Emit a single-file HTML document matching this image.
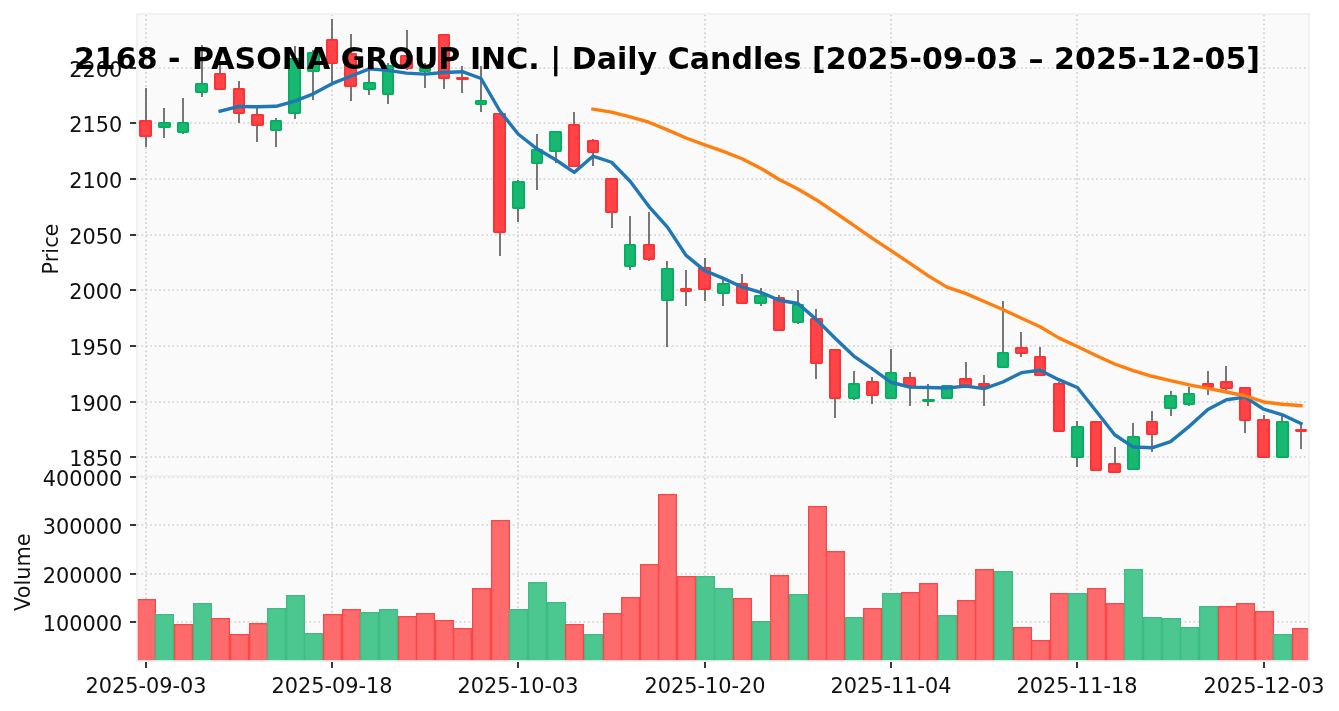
<!DOCTYPE html>
<html lang="en"><head><meta charset="utf-8"><title>2168 - PASONA GROUP INC. | Daily Candles</title>
<style>html,body{margin:0;padding:0;background:#fff}body{width:1339px;height:711px;overflow:hidden}svg{display:block}text{font-family:"DejaVu Sans","Liberation Sans",sans-serif;fill:#101010}</style></head><body>
<svg width="1339" height="711" viewBox="0 0 1339 711">
<rect width="1339" height="711" fill="#fff"/>
<defs><clipPath id="cp"><rect x="137" y="14" width="1172" height="462"/></clipPath><clipPath id="cv"><rect x="137" y="476" width="1172" height="185"/></clipPath></defs>
<rect x="137" y="14" width="1172" height="647" fill="#fafafa"/>
<g clip-path="url(#cp)" stroke="#d0d0d0" stroke-width="1.67" stroke-dasharray="1.67 2.75" fill="none"><path d="M146 476V14"/><path d="M332 476V14"/><path d="M518 476V14"/><path d="M705 476V14"/><path d="M891 476V14"/><path d="M1077 476V14"/><path d="M1264 476V14"/><path d="M137 68H1309"/><path d="M137 123H1309"/><path d="M137 179H1309"/><path d="M137 235H1309"/><path d="M137 290H1309"/><path d="M137 346H1309"/><path d="M137 402H1309"/><path d="M137 457H1309"/></g>
<g clip-path="url(#cv)" stroke="#d0d0d0" stroke-width="1.67" stroke-dasharray="1.67 2.75" fill="none"><path d="M146 661V476"/><path d="M332 661V476"/><path d="M518 661V476"/><path d="M705 661V476"/><path d="M891 661V476"/><path d="M1077 661V476"/><path d="M1264 661V476"/><path d="M137 477H1309"/><path d="M137 525H1309"/><path d="M137 574H1309"/><path d="M137 622H1309"/></g>
<g clip-path="url(#cv)" stroke-width="1.3"><rect x="137.65" y="599.65" width="17.7" height="65" fill="#fd6b6c" stroke="#fc4748"/><rect x="155.65" y="614.65" width="17.7" height="50" fill="#4dc790" stroke="#3cbd83"/><rect x="174.65" y="624.65" width="17.7" height="40" fill="#fd6b6c" stroke="#fc4748"/><rect x="193.65" y="603.65" width="17.7" height="61" fill="#4dc790" stroke="#3cbd83"/><rect x="211.65" y="618.65" width="17.7" height="46" fill="#fd6b6c" stroke="#fc4748"/><rect x="230.65" y="634.65" width="17.7" height="30" fill="#fd6b6c" stroke="#fc4748"/><rect x="249.65" y="623.65" width="17.7" height="41" fill="#fd6b6c" stroke="#fc4748"/><rect x="267.65" y="608.65" width="17.7" height="56" fill="#4dc790" stroke="#3cbd83"/><rect x="286.65" y="595.65" width="17.7" height="69" fill="#4dc790" stroke="#3cbd83"/><rect x="304.65" y="633.65" width="17.7" height="31" fill="#4dc790" stroke="#3cbd83"/><rect x="323.65" y="614.65" width="17.7" height="50" fill="#fd6b6c" stroke="#fc4748"/><rect x="342.65" y="609.65" width="17.7" height="55" fill="#fd6b6c" stroke="#fc4748"/><rect x="360.65" y="612.65" width="17.7" height="52" fill="#4dc790" stroke="#3cbd83"/><rect x="379.65" y="609.65" width="17.7" height="55" fill="#4dc790" stroke="#3cbd83"/><rect x="398.65" y="616.65" width="17.7" height="48" fill="#fd6b6c" stroke="#fc4748"/><rect x="416.65" y="613.65" width="17.7" height="51" fill="#fd6b6c" stroke="#fc4748"/><rect x="435.65" y="620.65" width="17.7" height="44" fill="#fd6b6c" stroke="#fc4748"/><rect x="453.65" y="628.65" width="17.7" height="36" fill="#fd6b6c" stroke="#fc4748"/><rect x="472.65" y="588.65" width="17.7" height="76" fill="#fd6b6c" stroke="#fc4748"/><rect x="491.65" y="520.65" width="17.7" height="144" fill="#fd6b6c" stroke="#fc4748"/><rect x="509.65" y="609.65" width="17.7" height="55" fill="#4dc790" stroke="#3cbd83"/><rect x="528.65" y="582.65" width="17.7" height="82" fill="#4dc790" stroke="#3cbd83"/><rect x="547.65" y="602.65" width="17.7" height="62" fill="#4dc790" stroke="#3cbd83"/><rect x="565.65" y="624.65" width="17.7" height="40" fill="#fd6b6c" stroke="#fc4748"/><rect x="584.65" y="634.65" width="17.7" height="30" fill="#4dc790" stroke="#3cbd83"/><rect x="603.65" y="613.65" width="17.7" height="51" fill="#fd6b6c" stroke="#fc4748"/><rect x="621.65" y="597.65" width="17.7" height="67" fill="#fd6b6c" stroke="#fc4748"/><rect x="640.65" y="564.65" width="17.7" height="100" fill="#fd6b6c" stroke="#fc4748"/><rect x="658.65" y="494.65" width="17.7" height="170" fill="#fd6b6c" stroke="#fc4748"/><rect x="677.65" y="576.65" width="17.7" height="88" fill="#fd6b6c" stroke="#fc4748"/><rect x="696.65" y="576.65" width="17.7" height="88" fill="#4dc790" stroke="#3cbd83"/><rect x="714.65" y="588.65" width="17.7" height="76" fill="#4dc790" stroke="#3cbd83"/><rect x="733.65" y="598.65" width="17.7" height="66" fill="#fd6b6c" stroke="#fc4748"/><rect x="752.65" y="621.65" width="17.7" height="43" fill="#4dc790" stroke="#3cbd83"/><rect x="770.65" y="575.65" width="17.7" height="89" fill="#fd6b6c" stroke="#fc4748"/><rect x="789.65" y="594.65" width="17.7" height="70" fill="#4dc790" stroke="#3cbd83"/><rect x="808.65" y="506.65" width="17.7" height="158" fill="#fd6b6c" stroke="#fc4748"/><rect x="826.65" y="551.65" width="17.7" height="113" fill="#fd6b6c" stroke="#fc4748"/><rect x="845.65" y="617.65" width="17.7" height="47" fill="#4dc790" stroke="#3cbd83"/><rect x="863.65" y="608.65" width="17.7" height="56" fill="#fd6b6c" stroke="#fc4748"/><rect x="882.65" y="593.65" width="17.7" height="71" fill="#4dc790" stroke="#3cbd83"/><rect x="901.65" y="592.65" width="17.7" height="72" fill="#fd6b6c" stroke="#fc4748"/><rect x="919.65" y="583.65" width="17.7" height="81" fill="#fd6b6c" stroke="#fc4748"/><rect x="938.65" y="615.65" width="17.7" height="49" fill="#4dc790" stroke="#3cbd83"/><rect x="957.65" y="600.65" width="17.7" height="64" fill="#fd6b6c" stroke="#fc4748"/><rect x="975.65" y="569.65" width="17.7" height="95" fill="#fd6b6c" stroke="#fc4748"/><rect x="994.65" y="571.65" width="17.7" height="93" fill="#4dc790" stroke="#3cbd83"/><rect x="1013.65" y="627.65" width="17.7" height="37" fill="#fd6b6c" stroke="#fc4748"/><rect x="1031.65" y="640.65" width="17.7" height="24" fill="#fd6b6c" stroke="#fc4748"/><rect x="1050.65" y="593.65" width="17.7" height="71" fill="#fd6b6c" stroke="#fc4748"/><rect x="1068.65" y="593.65" width="17.7" height="71" fill="#4dc790" stroke="#3cbd83"/><rect x="1087.65" y="588.65" width="17.7" height="76" fill="#fd6b6c" stroke="#fc4748"/><rect x="1106.65" y="603.65" width="17.7" height="61" fill="#fd6b6c" stroke="#fc4748"/><rect x="1124.65" y="569.65" width="17.7" height="95" fill="#4dc790" stroke="#3cbd83"/><rect x="1143.65" y="617.65" width="17.7" height="47" fill="#4dc790" stroke="#3cbd83"/><rect x="1162.65" y="618.65" width="17.7" height="46" fill="#4dc790" stroke="#3cbd83"/><rect x="1180.65" y="627.65" width="17.7" height="37" fill="#4dc790" stroke="#3cbd83"/><rect x="1199.65" y="606.65" width="17.7" height="58" fill="#4dc790" stroke="#3cbd83"/><rect x="1218.65" y="606.65" width="17.7" height="58" fill="#fd6b6c" stroke="#fc4748"/><rect x="1236.65" y="603.65" width="17.7" height="61" fill="#fd6b6c" stroke="#fc4748"/><rect x="1255.65" y="611.65" width="17.7" height="53" fill="#fd6b6c" stroke="#fc4748"/><rect x="1273.65" y="634.65" width="17.7" height="30" fill="#4dc790" stroke="#3cbd83"/><rect x="1292.65" y="628.65" width="17.7" height="36" fill="#fd6b6c" stroke="#fc4748"/></g>
<g clip-path="url(#cp)" stroke="#606060" stroke-width="1.7" fill="none"><path d="M146 88V121.1"/><path d="M146 135.6V147"/><path d="M164 108V123.4"/><path d="M164 126.3V138"/><path d="M183 98V123.4"/><path d="M183 131.6V134"/><path d="M202 45V84.2"/><path d="M202 91.5V97"/><path d="M220 64V74.3"/><path d="M220 88.5V90"/><path d="M239 81V89.3"/><path d="M239 112.4V123"/><path d="M257 108V115.2"/><path d="M257 124.6V142"/><path d="M276 118V121.1"/><path d="M276 129.7V147"/><path d="M295 46V59.1"/><path d="M295 112.4V119"/><path d="M313 50V53.2"/><path d="M313 70.4V100"/><path d="M332 19V40.3"/><path d="M332 62.2V82"/><path d="M351 34V54.6"/><path d="M351 85.4V101"/><path d="M369 70V83.4"/><path d="M369 88.5V95"/><path d="M388 63V66.3"/><path d="M388 93.4V104"/><path d="M407 30V56.4"/><path d="M407 67.6V70"/><path d="M425 63V68.6"/><path d="M425 71V88"/><path d="M444 34V35.3"/><path d="M444 77.6V89"/><path d="M462 66V78.1"/><path d="M462 78.6V93"/><path d="M481 66V101.3"/><path d="M481 103.5V112"/><path d="M500 231.5V256"/><path d="M518 180V182.2"/><path d="M518 207.6V222"/><path d="M537 134V150.4"/><path d="M537 162.3V190"/><path d="M556 131V132.2"/><path d="M556 150.5V163"/><path d="M574 112V125.3"/><path d="M593 139V141.1"/><path d="M593 151.5V166"/><path d="M612 211.6V228"/><path d="M630 216V245.3"/><path d="M630 265.5V270"/><path d="M649 212V245.3"/><path d="M649 258.7V261"/><path d="M667 261V269.1"/><path d="M667 299.6V347"/><path d="M686 270V289.6"/><path d="M686 290.8V306"/><path d="M705 258V268.1"/><path d="M705 288.7V301"/><path d="M723 280V284.3"/><path d="M723 292.7V306"/><path d="M742 274V284.3"/><path d="M761 288V296.1"/><path d="M761 302.6V306"/><path d="M779 295V298.5"/><path d="M798 290V305"/><path d="M798 321.7V324"/><path d="M816 309V319.1"/><path d="M816 362.6V379"/><path d="M835 397.4V418"/><path d="M854 371V384.2"/><path d="M854 397.4V400"/><path d="M872 377V382.1"/><path d="M872 394.7V404"/><path d="M891 349V373.3"/><path d="M910 372V378.1"/><path d="M910 386V406"/><path d="M928 384V400.1"/><path d="M928 400.8V406"/><path d="M966 362V379.2"/><path d="M984 375V384"/><path d="M984 386V406"/><path d="M1003 301V353.2"/><path d="M1021 332V348.2"/><path d="M1021 352.5V357"/><path d="M1040 347V357.3"/><path d="M1059 382V384.2"/><path d="M1077 421V427.2"/><path d="M1077 456.6V467"/><path d="M1115 447V464.1"/><path d="M1133 423V437.1"/><path d="M1152 411V422.1"/><path d="M1152 433.4V452"/><path d="M1171 391V396.4"/><path d="M1171 407.5V416"/><path d="M1189 387V394.3"/><path d="M1189 403.5V406"/><path d="M1208 371V384.2"/><path d="M1208 387V395"/><path d="M1226 366V382.1"/><path d="M1226 387.6V390"/><path d="M1245 419.7V433"/><path d="M1264 415V420.2"/><path d="M1282 416V422.1"/><path d="M1301 423V430.2"/><path d="M1301 430.7V449"/></g>
<g clip-path="url(#cp)" stroke-width="1.7" stroke-linejoin="round"><rect x="139.85" y="120.85" width="11.3" height="15.3" fill="#fe3032" fill-opacity="0.9" stroke="#fe3032" rx="0.6"/><rect x="158.85" y="122.85" width="11.3" height="4.3" fill="#00b060" fill-opacity="0.9" stroke="#00b060" rx="0.6"/><rect x="177.85" y="122.85" width="10.3" height="9.3" fill="#00b060" fill-opacity="0.9" stroke="#00b060" rx="0.6"/><rect x="195.85" y="83.85" width="11.3" height="8.3" fill="#00b060" fill-opacity="0.9" stroke="#00b060" rx="0.6"/><rect x="214.85" y="73.85" width="10.3" height="15.3" fill="#fe3032" fill-opacity="0.9" stroke="#fe3032" rx="0.6"/><rect x="233.85" y="88.85" width="10.3" height="24.3" fill="#fe3032" fill-opacity="0.9" stroke="#fe3032" rx="0.6"/><rect x="251.85" y="114.85" width="11.3" height="10.3" fill="#fe3032" fill-opacity="0.9" stroke="#fe3032" rx="0.6"/><rect x="270.85" y="120.85" width="10.3" height="9.3" fill="#00b060" fill-opacity="0.9" stroke="#00b060" rx="0.6"/><rect x="288.85" y="58.85" width="11.3" height="54.3" fill="#00b060" fill-opacity="0.9" stroke="#00b060" rx="0.6"/><rect x="307.85" y="52.85" width="11.3" height="18.3" fill="#00b060" fill-opacity="0.9" stroke="#00b060" rx="0.6"/><rect x="326.85" y="39.85" width="10.3" height="23.3" fill="#fe3032" fill-opacity="0.9" stroke="#fe3032" rx="0.6"/><rect x="344.85" y="53.85" width="11.3" height="32.3" fill="#fe3032" fill-opacity="0.9" stroke="#fe3032" rx="0.6"/><rect x="363.85" y="82.85" width="11.3" height="6.3" fill="#00b060" fill-opacity="0.9" stroke="#00b060" rx="0.6"/><rect x="382.85" y="65.85" width="10.3" height="28.3" fill="#00b060" fill-opacity="0.9" stroke="#00b060" rx="0.6"/><rect x="400.85" y="55.85" width="11.3" height="12.3" fill="#fe3032" fill-opacity="0.9" stroke="#fe3032" rx="0.6"/><rect x="419.85" y="67.85" width="10.3" height="3.3" fill="#00b060" fill-opacity="0.9" stroke="#00b060" rx="0.6"/><rect x="438.85" y="34.85" width="10.3" height="43.3" fill="#fe3032" fill-opacity="0.9" stroke="#fe3032" rx="0.6"/><rect x="456.85" y="77.85" width="11.3" height="1.3" fill="#fe3032" fill-opacity="0.9" stroke="#fe3032" rx="0.6"/><rect x="475.85" y="100.85" width="10.3" height="3.3" fill="#00b060" fill-opacity="0.9" stroke="#00b060" rx="0.6"/><rect x="493.85" y="113.85" width="11.3" height="118.3" fill="#fe3032" fill-opacity="0.9" stroke="#fe3032" rx="0.6"/><rect x="512.85" y="181.85" width="11.3" height="26.3" fill="#00b060" fill-opacity="0.9" stroke="#00b060" rx="0.6"/><rect x="531.85" y="149.85" width="10.3" height="13.3" fill="#00b060" fill-opacity="0.9" stroke="#00b060" rx="0.6"/><rect x="549.85" y="131.85" width="11.3" height="19.3" fill="#00b060" fill-opacity="0.9" stroke="#00b060" rx="0.6"/><rect x="568.85" y="124.85" width="10.3" height="41.3" fill="#fe3032" fill-opacity="0.9" stroke="#fe3032" rx="0.6"/><rect x="587.85" y="140.85" width="10.3" height="11.3" fill="#fe3032" fill-opacity="0.9" stroke="#fe3032" rx="0.6"/><rect x="605.85" y="178.85" width="11.3" height="33.3" fill="#fe3032" fill-opacity="0.9" stroke="#fe3032" rx="0.6"/><rect x="624.85" y="244.85" width="10.3" height="21.3" fill="#00b060" fill-opacity="0.9" stroke="#00b060" rx="0.6"/><rect x="643.85" y="244.85" width="10.3" height="14.3" fill="#fe3032" fill-opacity="0.9" stroke="#fe3032" rx="0.6"/><rect x="661.85" y="268.85" width="11.3" height="31.3" fill="#00b060" fill-opacity="0.9" stroke="#00b060" rx="0.6"/><rect x="680.85" y="288.85" width="10.3" height="2.3" fill="#fe3032" fill-opacity="0.9" stroke="#fe3032" rx="0.6"/><rect x="698.85" y="267.85" width="11.3" height="21.3" fill="#fe3032" fill-opacity="0.9" stroke="#fe3032" rx="0.6"/><rect x="717.85" y="283.85" width="11.3" height="9.3" fill="#00b060" fill-opacity="0.9" stroke="#00b060" rx="0.6"/><rect x="736.85" y="283.85" width="10.3" height="19.3" fill="#fe3032" fill-opacity="0.9" stroke="#fe3032" rx="0.6"/><rect x="754.85" y="295.85" width="11.3" height="7.3" fill="#00b060" fill-opacity="0.9" stroke="#00b060" rx="0.6"/><rect x="773.85" y="297.85" width="10.3" height="32.3" fill="#fe3032" fill-opacity="0.9" stroke="#fe3032" rx="0.6"/><rect x="792.85" y="304.85" width="10.3" height="17.3" fill="#00b060" fill-opacity="0.9" stroke="#00b060" rx="0.6"/><rect x="810.85" y="318.85" width="11.3" height="44.3" fill="#fe3032" fill-opacity="0.9" stroke="#fe3032" rx="0.6"/><rect x="829.85" y="349.85" width="10.3" height="48.3" fill="#fe3032" fill-opacity="0.9" stroke="#fe3032" rx="0.6"/><rect x="848.85" y="383.85" width="10.3" height="14.3" fill="#00b060" fill-opacity="0.9" stroke="#00b060" rx="0.6"/><rect x="866.85" y="381.85" width="11.3" height="13.3" fill="#fe3032" fill-opacity="0.9" stroke="#fe3032" rx="0.6"/><rect x="885.85" y="372.85" width="10.3" height="25.3" fill="#00b060" fill-opacity="0.9" stroke="#00b060" rx="0.6"/><rect x="903.85" y="377.85" width="11.3" height="8.3" fill="#fe3032" fill-opacity="0.9" stroke="#fe3032" rx="0.6"/><rect x="922.85" y="399.85" width="11.3" height="1.3" fill="#00b060" fill-opacity="0.9" stroke="#00b060" rx="0.6"/><rect x="941.85" y="385.85" width="10.3" height="12.3" fill="#00b060" fill-opacity="0.9" stroke="#00b060" rx="0.6"/><rect x="959.85" y="378.85" width="11.3" height="6.3" fill="#fe3032" fill-opacity="0.9" stroke="#fe3032" rx="0.6"/><rect x="978.85" y="383.85" width="10.3" height="2.3" fill="#fe3032" fill-opacity="0.9" stroke="#fe3032" rx="0.6"/><rect x="997.85" y="352.85" width="10.3" height="14.3" fill="#00b060" fill-opacity="0.9" stroke="#00b060" rx="0.6"/><rect x="1015.85" y="347.85" width="11.3" height="5.3" fill="#fe3032" fill-opacity="0.9" stroke="#fe3032" rx="0.6"/><rect x="1034.85" y="356.85" width="10.3" height="18.3" fill="#fe3032" fill-opacity="0.9" stroke="#fe3032" rx="0.6"/><rect x="1053.85" y="383.85" width="10.3" height="47.3" fill="#fe3032" fill-opacity="0.9" stroke="#fe3032" rx="0.6"/><rect x="1071.85" y="426.85" width="11.3" height="30.3" fill="#00b060" fill-opacity="0.9" stroke="#00b060" rx="0.6"/><rect x="1090.85" y="421.85" width="10.3" height="48.3" fill="#fe3032" fill-opacity="0.9" stroke="#fe3032" rx="0.6"/><rect x="1108.85" y="463.85" width="11.3" height="8.3" fill="#fe3032" fill-opacity="0.9" stroke="#fe3032" rx="0.6"/><rect x="1127.85" y="436.85" width="11.3" height="32.3" fill="#00b060" fill-opacity="0.9" stroke="#00b060" rx="0.6"/><rect x="1146.85" y="421.85" width="10.3" height="12.3" fill="#fe3032" fill-opacity="0.9" stroke="#fe3032" rx="0.6"/><rect x="1164.85" y="395.85" width="11.3" height="12.3" fill="#00b060" fill-opacity="0.9" stroke="#00b060" rx="0.6"/><rect x="1183.85" y="393.85" width="10.3" height="10.3" fill="#00b060" fill-opacity="0.9" stroke="#00b060" rx="0.6"/><rect x="1202.85" y="383.85" width="10.3" height="3.3" fill="#fe3032" fill-opacity="0.9" stroke="#fe3032" rx="0.6"/><rect x="1220.85" y="381.85" width="11.3" height="6.3" fill="#fe3032" fill-opacity="0.9" stroke="#fe3032" rx="0.6"/><rect x="1239.85" y="387.85" width="10.3" height="32.3" fill="#fe3032" fill-opacity="0.9" stroke="#fe3032" rx="0.6"/><rect x="1257.85" y="419.85" width="11.3" height="37.3" fill="#fe3032" fill-opacity="0.9" stroke="#fe3032" rx="0.6"/><rect x="1276.85" y="421.85" width="11.3" height="35.3" fill="#00b060" fill-opacity="0.9" stroke="#00b060" rx="0.6"/><rect x="1295.85" y="429.85" width="10.3" height="1.3" fill="#fe3032" fill-opacity="0.9" stroke="#fe3032" rx="0.6"/></g>
<polyline clip-path="url(#cp)" points="220.18,111.08 238.81,106.43 257.45,106.75 276.09,106.31 294.72,101.15 313.36,93.83 331.99,83.65 350.62,76.27 369.26,68.89 387.89,70.41 406.53,73.1 425.17,74.13 443.8,72.53 462.44,71.72 481.07,78.51 499.71,110.73 518.34,134.22 536.98,148.84 555.61,159.75 574.25,172.35 592.88,156.2 611.52,162.25 630.15,181.23 648.79,206.28 667.42,227.13 686.06,255.36 704.69,270.59 723.33,278.39 741.96,286.94 760.6,292.31 779.23,300.29 797.87,303.46 816.5,319.62 835.13,338.3 853.77,356.03 872.41,368.9 891.04,382.27 909.68,387.11 928.31,387.53 946.95,388.02 965.58,386.15 984.22,388.66 1002.85,382.02 1021.49,372.66 1040.12,370.31 1058.76,379.65 1077.39,387.53 1096.03,411 1114.66,434.78 1133.3,447.06 1151.93,447.76 1170.57,441.68 1189.2,426.37 1207.84,409.58 1226.47,399.72 1245.11,397.17 1263.74,409.24 1282.38,414.78 1301.01,423.45" fill="none" stroke="#1f77b4" stroke-width="3.4" stroke-linejoin="round" stroke-linecap="square"/>
<polyline clip-path="url(#cp)" points="592.88,109.11 611.52,112.1 630.15,116.84 648.79,122.24 667.42,129.84 686.06,138.01 704.69,144.95 723.33,151.35 741.96,158.75 760.6,168.26 779.23,179.44 797.87,189 816.5,199.95 835.13,212.5 853.77,225.32 872.41,238.4 891.04,250.69 909.68,263.08 928.31,275.9 946.95,287.16 965.58,293.36 984.22,301.45 1002.85,309.56 1021.49,318.26 1040.12,326.68 1058.76,337.85 1077.39,346.42 1096.03,355.42 1114.66,364.02 1133.3,370.65 1151.93,376.28 1170.57,380.55 1189.2,384.91 1207.84,388.33 1226.47,392.03 1245.11,395.75 1263.74,401.97 1282.38,404.28 1301.01,405.59" fill="none" stroke="#ff7f0e" stroke-width="3.4" stroke-linejoin="round" stroke-linecap="square"/>
<g stroke="#f0f0f0" stroke-width="1.67" fill="none"><rect x="137" y="14" width="1172" height="462"/><rect x="137" y="476" width="1172" height="185"/></g>
<g stroke="#101010" stroke-width="1.67" fill="none"><path d="M136.1 68H130.05"/><path d="M136.1 123H130.05"/><path d="M136.1 179H130.05"/><path d="M136.1 235H130.05"/><path d="M136.1 290H130.05"/><path d="M136.1 346H130.05"/><path d="M136.1 402H130.05"/><path d="M136.1 457H130.05"/><path d="M136.1 477H130.05"/><path d="M136.1 525H130.05"/><path d="M136.1 574H130.05"/><path d="M136.1 622H130.05"/><path d="M146 661.9V667.9"/><path d="M332 661.9V667.9"/><path d="M518 661.9V667.9"/><path d="M705 661.9V667.9"/><path d="M891 661.9V667.9"/><path d="M1077 661.9V667.9"/><path d="M1264 661.9V667.9"/></g>
<g font-size="20.83" text-anchor="end"><text x="122.2" y="77">2200</text><text x="122.2" y="132">2150</text><text x="122.2" y="188">2100</text><text x="122.2" y="244">2050</text><text x="122.2" y="299">2000</text><text x="122.2" y="355">1950</text><text x="122.2" y="411">1900</text><text x="122.2" y="466">1850</text><text x="122.2" y="486">400000</text><text x="122.2" y="534">300000</text><text x="122.2" y="583">200000</text><text x="122.2" y="631">100000</text></g>
<g font-size="20.83" text-anchor="middle"><text x="146" y="692.7">2025-09-03</text><text x="332" y="692.7">2025-09-18</text><text x="518" y="692.7">2025-10-03</text><text x="705" y="692.7">2025-10-20</text><text x="891" y="692.7">2025-11-04</text><text x="1077" y="692.7">2025-11-18</text><text x="1264" y="692.7">2025-12-03</text></g>
<text font-size="20.83" text-anchor="middle" transform="translate(58.2 249) rotate(-90)">Price</text>
<text font-size="20.83" text-anchor="middle" transform="translate(29.8 572.2) rotate(-90)">Volume</text>
<text id="title" font-size="30" font-weight="bold" text-anchor="middle" x="667.0" y="69" letter-spacing="0.04" style="fill:#000">2168 - <tspan dx="1">PASONA GROUP</tspan><tspan dx="-1"> INC. | Daily Candles [2025-09-03 – 2025-12-05]</tspan></text>
</svg></body></html>
